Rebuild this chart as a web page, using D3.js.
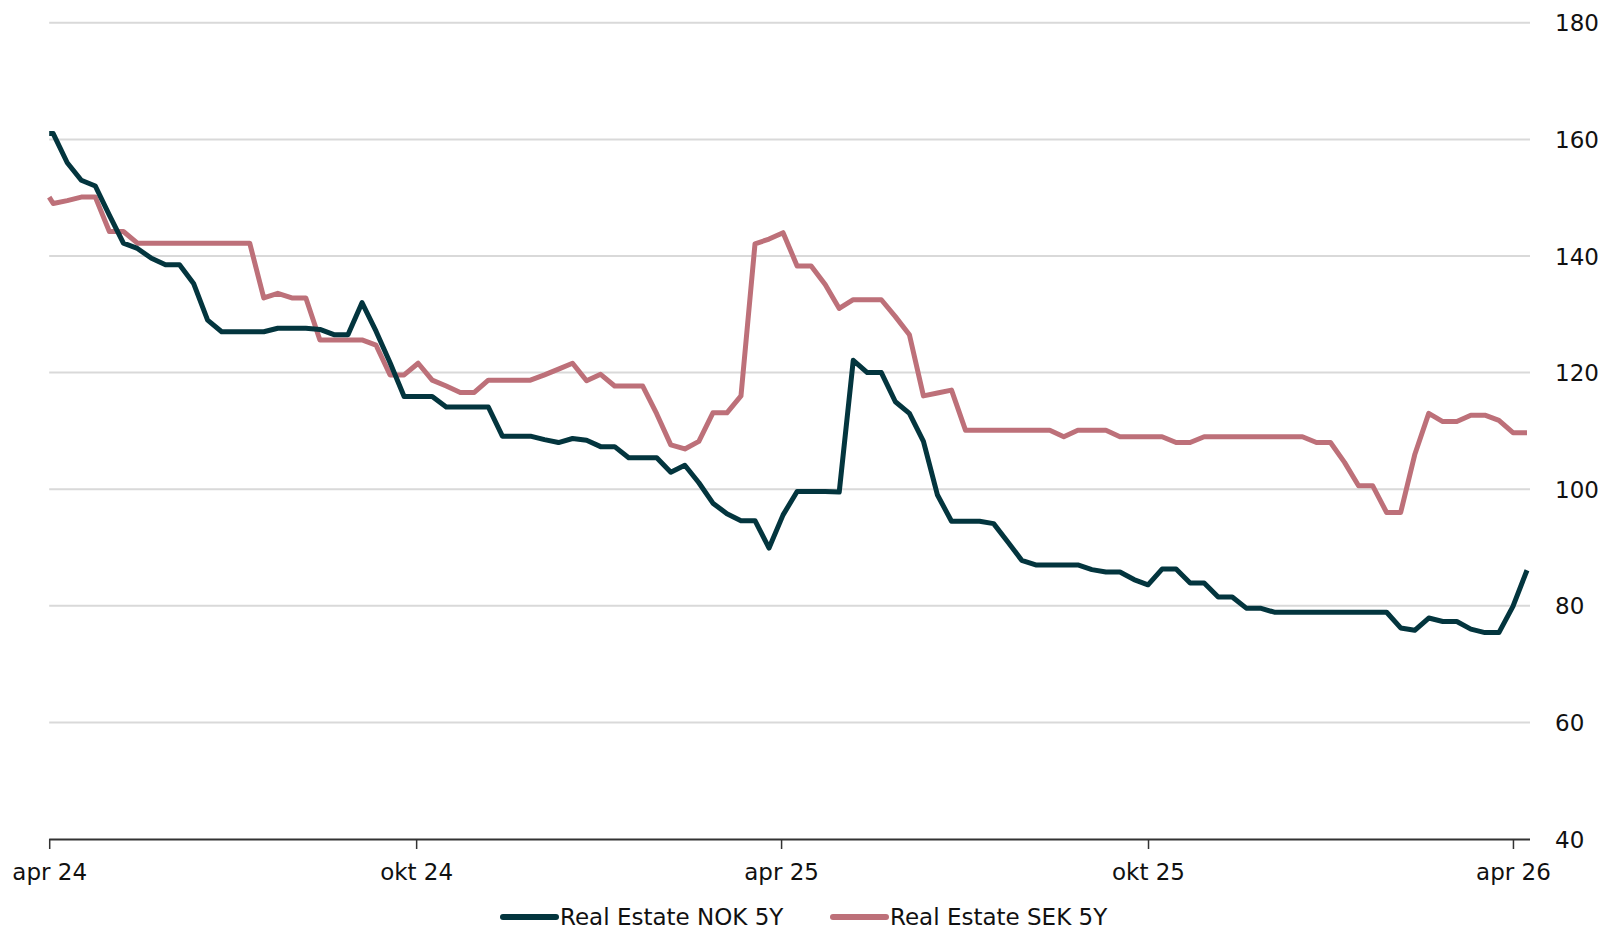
<!DOCTYPE html>
<html>
<head>
<meta charset="utf-8">
<script src="https://cdn.jsdelivr.net/npm/d3@7"></script>
<style>
  html, body { margin: 0; padding: 0; background: #ffffff; }
  svg { display: block; }
  text { font-family: "DejaVu Sans", sans-serif; fill: #111; }
</style>
</head>
<body>
<svg id="chart" width="1608" height="932"></svg>
<script>
// ---------- DATA ----------
const dates = [
  "2024-04-01",
  "2024-04-03","2024-04-10","2024-04-17","2024-04-24",
  "2024-05-01","2024-05-08","2024-05-15","2024-05-22","2024-05-29",
  "2024-06-05","2024-06-12","2024-06-19","2024-06-26",
  "2024-07-03","2024-07-10","2024-07-17","2024-07-24","2024-07-31",
  "2024-08-07","2024-08-14","2024-08-21","2024-08-28",
  "2024-09-04","2024-09-11","2024-09-18","2024-09-25",
  "2024-10-02","2024-10-09","2024-10-16","2024-10-23","2024-10-30",
  "2024-11-06","2024-11-13","2024-11-20","2024-11-27",
  "2024-12-04","2024-12-11","2024-12-18","2024-12-25",
  "2025-01-01","2025-01-08","2025-01-15","2025-01-22","2025-01-29",
  "2025-02-05","2025-02-12","2025-02-19","2025-02-26",
  "2025-03-05","2025-03-12","2025-03-19","2025-03-26",
  "2025-04-02","2025-04-09","2025-04-16","2025-04-23","2025-04-30",
  "2025-05-07","2025-05-14","2025-05-21","2025-05-28",
  "2025-06-04","2025-06-11","2025-06-18","2025-06-25",
  "2025-07-02","2025-07-09","2025-07-16","2025-07-23","2025-07-30",
  "2025-08-06","2025-08-13","2025-08-20","2025-08-27",
  "2025-09-03","2025-09-10","2025-09-17","2025-09-24",
  "2025-10-01","2025-10-08","2025-10-15","2025-10-22","2025-10-29",
  "2025-11-05","2025-11-12","2025-11-19","2025-11-26",
  "2025-12-03","2025-12-10","2025-12-17","2025-12-24","2025-12-31",
  "2026-01-07","2026-01-14","2026-01-21","2026-01-28",
  "2026-02-04","2026-02-11","2026-02-18","2026-02-25",
  "2026-03-04","2026-03-11","2026-03-18","2026-03-25",
  "2026-04-01","2026-04-08"
];

const nok = [
  161.0,
  161.0,156.0,153.0,152.0,
  147.0,142.2,141.3,139.6,138.5,
  138.5,135.3,129.0,127.0,
  127.0,127.0,127.0,127.6,127.6,
  127.6,127.4,126.5,126.5,
  132.0,127.1,121.7,115.9,
  115.9,115.9,114.1,114.1,114.1,
  114.1,109.1,109.1,109.1,
  108.5,108.0,108.7,108.4,
  107.3,107.3,105.4,105.4,105.4,
  102.9,104.1,101.1,97.6,
  95.8,94.6,94.6,89.9,
  95.6,99.6,99.6,99.6,99.5,
  122.1,120.0,120.0,115.0,
  113.0,108.2,99.0,94.5,
  94.5,94.5,94.1,91.0,87.8,
  87.0,87.0,87.0,87.0,
  86.2,85.8,85.8,84.5,
  83.6,86.3,86.3,83.9,83.9,
  81.5,81.5,79.6,79.6,
  78.9,78.9,78.9,78.9,78.9,
  78.9,78.9,78.9,78.9,
  76.2,75.8,77.9,77.3,
  77.3,76.0,75.4,75.4,
  79.9,86.1
];

const sek = [
  150.1,
  149.0,149.5,150.1,150.1,
  144.2,144.2,142.2,142.2,142.2,
  142.2,142.2,142.2,142.2,
  142.2,142.2,132.8,133.6,132.8,
  132.8,125.6,125.6,125.6,
  125.6,124.7,119.6,119.6,
  121.6,118.7,117.7,116.6,116.6,
  118.7,118.7,118.7,118.7,
  119.6,120.6,121.6,118.6,
  119.7,117.7,117.7,117.7,112.9,
  107.6,106.9,108.2,113.1,
  113.1,116.0,142.1,142.9,
  144.0,138.3,138.3,135.1,131.0,
  132.5,132.5,132.5,129.6,
  126.5,116.0,116.5,117.0,
  110.1,110.1,110.1,110.1,110.1,
  110.1,110.1,109.0,110.1,
  110.1,110.1,109.0,109.0,
  109.0,109.0,108.0,108.0,109.0,
  109.0,109.0,109.0,109.0,
  109.0,109.0,109.0,108.0,108.0,
  104.6,100.6,100.6,96.0,
  96.0,105.9,113.0,111.6,
  111.6,112.7,112.7,111.8,
  109.7,109.7
];

const seriesNames = ["Real Estate NOK 5Y", "Real Estate SEK 5Y"];
const seriesColors = ["#03353e", "#bd7079"];

const xTickDates = ["2024-04-01","2024-10-01","2025-04-01","2025-10-01","2026-04-01"];
const xTickLabels = ["apr 24","okt 24","apr 25","okt 25","apr 26"];
const yTicks = [40, 60, 80, 100, 120, 140, 160, 180];
const xDomain = ["2024-04-01", "2026-04-09T12:00"];
const yDomain = [40, 180];

// ---------- LAYOUT ----------
const svg = d3.select("#chart");
const plotLeft = 49.2, plotRight = 1530, plotTop = 22.8, plotBottom = 839;

const parse = s => new Date(s + (s.length === 10 ? "T00:00:00" : ":00"));
const x = d3.scaleTime().domain(xDomain.map(parse)).range([plotLeft, plotRight]);
const y = d3.scaleLinear().domain(yDomain).range([plotBottom, plotTop]);

// gridlines
svg.append("g").selectAll("line").data(yTicks.filter(v => v !== yDomain[0])).join("line")
  .attr("x1", plotLeft).attr("x2", plotRight)
  .attr("y1", d => y(d)).attr("y2", d => y(d))
  .attr("stroke", "#d9d9d9").attr("stroke-width", 2);

// right y-axis labels
const yAxis = d3.axisRight(y).tickValues(yTicks).tickSize(0).tickPadding(25).tickFormat(d3.format("d"));
const gy = svg.append("g").attr("transform", `translate(${plotRight},0)`).call(yAxis);
gy.select(".domain").remove();
gy.selectAll("text").attr("font-family", "DejaVu Sans").attr("font-size", 23).attr("fill", "#111").attr("dy", "0.35em");

// x axis
const xAxis = d3.axisBottom(x)
  .tickValues(xTickDates.map(parse))
  .tickSize(10).tickPadding(15)
  .tickFormat((d, i) => xTickLabels[i]);
const gx = svg.append("g").attr("transform", `translate(0,${plotBottom})`).call(xAxis);
gx.select(".domain").attr("d", `M${plotLeft},0.5H${plotRight}`).attr("stroke", "#333").attr("stroke-width", 2);
gx.selectAll(".tick line").attr("stroke", "#333").attr("stroke-width", 1.5);
gx.selectAll("text").attr("font-family", "DejaVu Sans").attr("font-size", 23).attr("fill", "#111");

// lines
const dateObjs = dates.map(parse);
const line = d3.line().x((d, i) => x(dateObjs[i])).y(d => y(d));
const drawOrder = [
  {values: sek, color: seriesColors[1]},
  {values: nok, color: seriesColors[0]}
];
drawOrder.forEach(s => {
  svg.append("path").datum(s.values)
    .attr("d", line)
    .attr("fill", "none")
    .attr("stroke", s.color)
    .attr("stroke-width", 5)
    .attr("stroke-linejoin", "round")
    .attr("stroke-linecap", "butt");
});

// legend
const legendItems = [
  {name: seriesNames[0], color: seriesColors[0], x: 503},
  {name: seriesNames[1], color: seriesColors[1], x: 833}
];
const ly = 917;
const lg = svg.append("g");
legendItems.forEach(it => {
  lg.append("line").attr("x1", it.x).attr("x2", it.x + 53).attr("y1", ly).attr("y2", ly)
    .attr("stroke", it.color).attr("stroke-width", 6).attr("stroke-linecap", "round");
  lg.append("text").attr("x", it.x + 57).attr("y", ly).attr("dy", "0.35em")
    .attr("font-size", 23).text(it.name);
});
</script>
</body>
</html>
